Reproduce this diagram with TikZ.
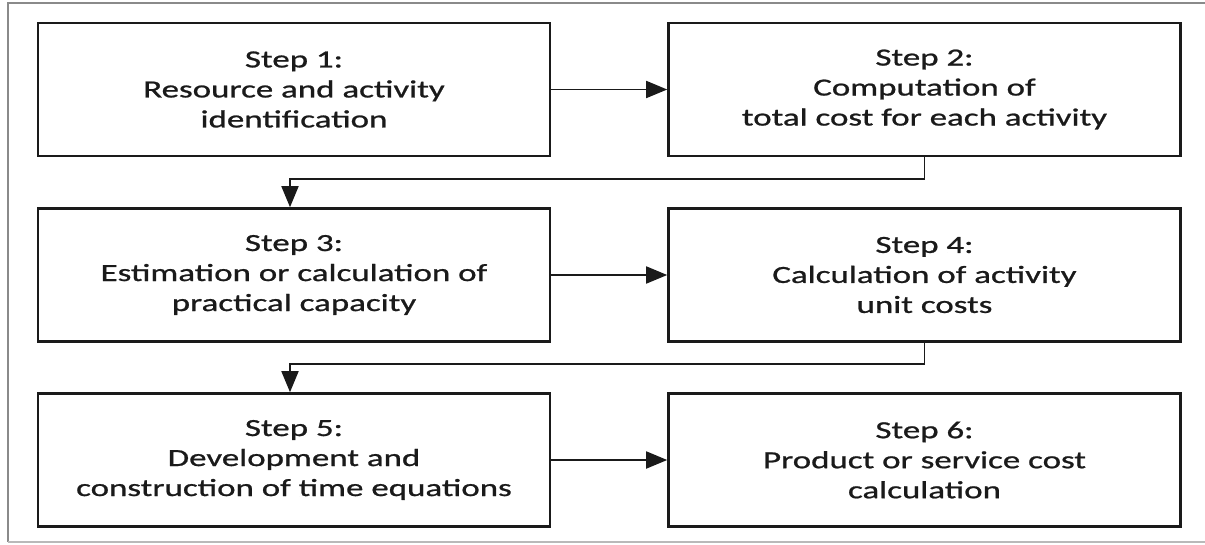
\documentclass[tikz,border=0pt]{standalone}
\usepackage{fontspec}
\usetikzlibrary{arrows.meta}
\newfontfamily\boxfont[FakeStretch=1.42,FakeBold=0.9]{Carlito}
\definecolor{framegray}{HTML}{8A8A8A}
\definecolor{ink}{HTML}{1A1A1A}
\begin{document}
\begin{tikzpicture}[x=1pt,y=-1pt,
  stepbox/.style={draw=ink, line width=2.6pt, fill=white, minimum width=512pt,
    minimum height=133pt, align=center, inner sep=0pt,
    font=\boxfont\fontsize{24.6}{30}\selectfont, text=ink},
  link/.style={draw=ink, line width=1.8pt,
    -{Triangle[length=21pt,width=17pt]}}]
\useasboundingbox (0,0) rectangle (1205,544);
\fill[white] (0,0) rectangle (1205,544);
% outer frame
\draw[framegray, line width=2pt] (8,542) -- (8,3) -- (1205,3);
\draw[framegray!60, line width=1.5pt] (8,542) -- (1205,542);

% six steps
\node[stepbox] (s1) at (294,89.5) {Step 1:\\Resource and activity\\identification};
\node[stepbox] (s2) at (924.5,89.5) {Step 2:\\Computation of\\total cost for each activity};
\node[stepbox] (s3) at (294,275) {Step 3:\\Estimation or calculation of\\practical capacity};
\node[stepbox] (s4) at (924.5,275) {Step 4:\\Calculation of activity\\unit costs};
\node[stepbox] (s5) at (294,460) {Step 5:\\Development and\\construction of time equations};
\node[stepbox] (s6) at (924.5,460) {Step 6:\\Product or service cost\\calculation};

% connectors
\draw[link] (s1.east) -- (s2.west);
\draw[link] (s3.east) -- (s4.west);
\draw[link] (s5.east) -- (s6.west);
\draw[link] (s2.south) -- ++(0,22) -| ([xshift=-4pt]s3.north);
\draw[link] (s4.south) -- ++(0,21) -| ([xshift=-4pt]s5.north);
\end{tikzpicture}
\end{document}
